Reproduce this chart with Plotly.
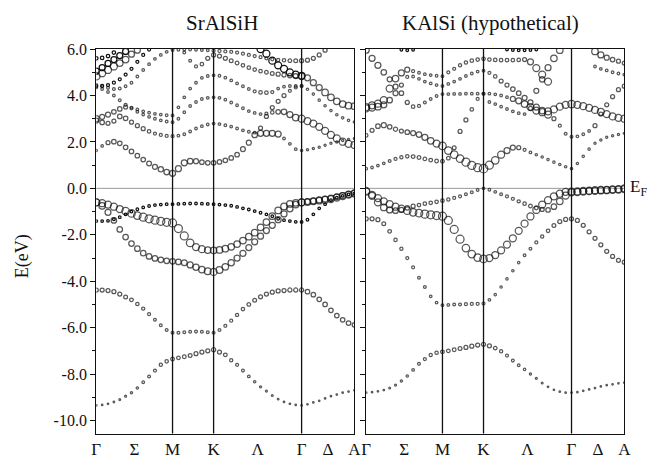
import plotly.graph_objects as go

N = None
# k-path sample positions (Γ=0, M=13, K=20, Γ=35, A=44)
K_POINTS = list(range(45))
SYM_LINES = [13, 20, 35]
X_TICKVALS = [0, 6.5, 13, 20, 27.5, 35, 39.5, 44]
X_TICKTEXT = ["Γ", "Σ", "M", "K", "Λ", "Γ", "Δ", "A"]
Y_TICKVALS = [6, 4, 2, 0, -2, -4, -6, -8, -10]
Y_TICKTEXT = ["6.0", "4.0", "2.0", "0.0", "-2.0", "-4.0", "-6.0", "-8.0", "-10.0"]
Y_MINOR = [5, 3, 1, -1, -3, -5, -7, -9]
TITLES = ["SrAlSiH", "KAlSi (hypothetical)"]

# ---------------- SrAlSiH (left) : energies (eV) and fat-band weights (marker size) ----------
SR_B1_E = [-9.35,-9.33,-9.28,-9.2,-9.1,-8.95,-8.8,-8.6,-8.35,-8.1,-7.85,-7.6,-7.45,-7.35,
           -7.3,-7.25,-7.2,-7.12,-7.05,-7.0,-6.95,
           -7.05,-7.17,-7.4,-7.6,-7.85,-8.1,-8.33,-8.55,-8.73,-8.92,-9.08,-9.2,-9.28,-9.33,-9.35,
           -9.3,-9.22,-9.15,-9.05,-8.95,-8.88,-8.8,-8.75,-8.7]
SR_B1_S = [1.5,1.5,1.5,1.6,1.8,2,2.2,2.4,2.6,2.8,3,3.2,3.4,3.6,
           3.6,3.7,3.8,3.9,4,4,4.2,
           4,3.6,3.2,3,2.8,2.6,2.4,2.2,2,1.8,1.6,1.5,1.5,1.5,1.5,
           1.5,1.5,1.5,1.5,1.5,1.5,1.5,1.5,1.5]
SR_B2_E = [-4.38,-4.38,-4.4,-4.45,-4.55,-4.68,-4.8,-4.98,-5.18,-5.42,-5.66,-5.9,-6.1,-6.22,
           -6.22,-6.2,-6.18,-6.17,-6.18,-6.2,-6.22,
           -6.1,-5.92,-5.7,-5.45,-5.2,-5.0,-4.82,-4.67,-4.55,-4.47,-4.42,-4.4,-4.38,-4.38,-4.38,
           -4.45,-4.58,-4.78,-5.0,-5.25,-5.48,-5.66,-5.8,-5.88]
SR_B2_S = [4,4,4,4,4,3.8,3.6,3.4,3.2,3,2.8,2.8,2.8,2.8,
           2.8,2.8,2.8,2.8,2.8,2.8,2.8,
           2.8,3,3,3.2,3.4,3.6,3.8,4,4,4,4,4,4.2,4.2,4.2,
           4.5,4.5,4.5,4.5,4.5,4.5,4.5,4.5,4.5]
SR_B3_E = [-0.6,-0.75,-1.03,-1.38,-1.77,-2.1,-2.38,-2.6,-2.79,-2.93,-3.02,-3.08,-3.12,-3.14,
           -3.17,-3.2,-3.3,-3.4,-3.5,-3.57,-3.6,
           -3.52,-3.38,-3.2,-3.0,-2.8,-2.55,-2.3,-2.06,-1.82,-1.59,-1.35,-1.1,-0.88,-0.7,-0.6,
           -0.57,-0.54,-0.5,-0.46,-0.42,-0.37,-0.31,-0.26,-0.21]
SR_B3_S = [7,6.5,6,5.5,5.5,5.5,5.5,5.5,5.5,5.5,5.5,5.5,5.5,5.5,
           5.5,5.8,6,6.2,6.5,6.8,7,
           6.8,6.5,6.2,6,6,6,6,6,6,6,6,6,6.2,6.5,7,
           6,6,6,6,6,6,6,6,6]
SR_B4_E = [-0.6,-0.64,-0.7,-0.79,-0.89,-0.98,-1.08,-1.17,-1.24,-1.31,-1.37,-1.42,-1.46,-1.49,
           -1.73,-2.05,-2.35,-2.53,-2.62,-2.66,-2.67,
           -2.65,-2.6,-2.52,-2.4,-2.25,-2.08,-1.91,-1.68,-1.45,-1.2,-0.95,-0.78,-0.67,-0.62,-0.6,
           -0.59,-0.56,-0.53,-0.5,-0.46,-0.4,-0.33,-0.27,-0.22]
SR_B4_S = [7,7,7,7,7,7.5,7.5,7.5,8,8,8,8,8,8,
           8,8,7.5,7,7,6.5,6.5,
           6.5,6.5,6.5,6.5,6.5,6.5,6.5,6.5,6.5,6.5,6.5,6.5,6.5,6.5,7,
           6.5,6.5,6.5,7,7,7,7,7,7]
SR_B5_E = [-1.41,-1.41,-1.4,-1.33,-1.24,-1.12,-1.0,-0.9,-0.82,-0.76,-0.72,-0.7,-0.68,-0.68,
           -0.67,-0.66,-0.65,-0.65,-0.66,-0.67,-0.68,
           -0.7,-0.72,-0.75,-0.8,-0.86,-0.91,-0.98,-1.05,-1.12,-1.2,-1.31,-1.37,-1.41,-1.44,-1.45,
           -1.35,-1.12,-0.86,-0.68,-0.51,-0.4,-0.32,-0.26,-0.22]
SR_B5_S = 2.6
SR_B6_E = [1.63,1.83,1.97,2.01,1.94,1.77,1.59,1.41,1.24,1.07,0.93,0.82,0.7,0.65,
           0.85,1.1,1.17,1.17,1.13,1.1,1.1,
           1.14,1.21,1.31,1.45,1.69,1.97,2.3,2.37,2.37,2.37,2.34,2.15,1.92,1.69,1.63,
           1.66,1.72,1.77,1.86,1.94,2.0,2.06,2.11,2.15]
SR_B6_S = [2.2,2.5,4,4.5,4.5,4.5,4.5,4.5,4.5,4.8,5,5.2,5.5,6,
           6,6,5.5,5,4.5,4.5,4.5,
           4.5,4.5,4.5,4.5,4.8,5,5.5,6,6,6,6,2.6,2.6,2.6,2.4,
           2.2,2.2,2.2,2.2,2.2,2.2,2.2,2.2,2.2]
SR_B7_E = [2.92,2.84,2.8,2.9,3.1,3.02,2.85,2.7,2.57,2.45,2.36,2.3,2.26,2.25,
           2.27,2.33,2.45,2.58,2.68,2.75,2.79,
           2.77,2.72,2.66,2.58,2.5,2.44,2.4,2.6,3.1,3.48,3.75,4.0,4.2,4.35,4.41,
           4.27,4.06,3.8,3.56,3.35,3.17,3.04,2.93,2.86]
SR_B7_S = [5,4.5,4,4,4.5,4.5,4,4,4,3.5,3,3,3,3,
           2.6,2.6,2.6,2.6,2.6,2.6,2.6,
           2.6,2.6,2.6,2.6,2.6,2.6,2.6,4,4,4,4,4,3,3,2.6,
           2.4,2.4,2.4,2.4,2.4,2.4,2.4,2.4,2.4]
SR_B8_E = [3.0,3.08,3.18,3.3,3.42,3.5,3.45,3.3,3.18,3.08,3.0,2.93,2.88,2.85,
           3.0,3.28,3.55,3.72,3.85,3.9,3.92,
           3.9,3.82,3.7,3.58,3.45,3.33,3.25,3.2,3.22,3.27,3.3,3.3,3.18,3.05,3.0,
           2.9,2.79,2.65,2.48,2.3,2.15,2.01,1.92,1.87]
SR_B8_S = [6,5,5,4.5,4.5,4,3,2.6,2.6,2.6,2.6,2.6,2.6,2.6,
           2.6,2.6,2.6,2.6,2.6,2.6,2.6,
           2.6,2.6,2.6,2.6,2.6,2.6,2.6,2.6,3,3.5,4.5,5.5,6,6.5,7,
           7,7,7,7,7,7,7,7,7]
SR_B9_E = [4.35,4.28,4.15,4.0,3.8,3.6,3.48,3.4,3.32,3.26,3.21,3.18,3.15,3.14,
           3.49,3.92,4.3,4.55,4.76,4.84,4.87,
           4.85,4.77,4.65,4.52,4.4,4.28,4.18,4.13,4.12,4.15,4.3,4.38,4.41,4.41,4.41,
           4.76,4.55,4.34,4.13,3.92,3.75,3.63,3.56,3.54]
SR_B9_S = [2.6,2.6,2.6,2.6,2.8,3,2.6,2.6,2.6,2.6,2.6,2.6,2.6,2.6,
           2.6,2.6,2.6,2.6,2.6,2.6,2.6,
           2.6,2.6,2.6,2.6,2.6,2.6,3,3.5,3.5,3,2.6,2.6,2.6,2.6,2.6,
           6,6,6,6.5,6.5,6.5,6.5,6.5,6.5]
SR_B10_E = [4.83,4.96,5.1,5.25,5.4,5.55,5.78,5.95,N,N,N,N,N,N,
            N,5.85,5.5,5.25,5.35,5.6,5.75,
            5.7,5.6,5.5,5.4,5.3,5.2,5.12,5.05,5.0,4.95,4.92,4.88,4.86,4.84,4.83,
            N,N,N,N,N,N,N,N,N]
SR_B10_S = [7.5,7,7,7,6.5,6.5,6,6,3,3,3,3,3,3,
            3,2.8,2.8,3,3.5,4,4,
            4,4,3.8,3.6,3.5,3.5,3.5,3.5,3.6,3.8,4,4.2,4.5,5,6,
            3,3,3,3,3,3,3,3,3]
SR_B11_E = [4.45,4.4,4.33,4.28,4.3,4.4,4.55,4.82,5.1,5.35,5.58,5.75,5.88,5.96,
            5.97,5.98,5.98,5.97,5.96,5.95,5.93,
            5.92,5.9,5.88,5.85,5.8,5.75,5.7,5.65,5.6,5.56,5.53,5.52,5.5,5.5,5.5,
            5.52,5.6,5.75,5.95,N,N,N,N,N]
SR_B11_S = [2.8,2.8,2.8,2.8,2.8,2.6,2.6,2.6,2.6,2.6,2.6,2.6,2.6,2.6,
            2.6,2.6,2.6,2.6,2.6,2.6,3,
            3,3,3,3,3,3,3,3,3,3,3.2,3.4,3.6,3.8,4,
            4,4,4,4,4,4,4,4,4]
SR_B12_E = [N,N,N,N,N,N,N,N,N,N,N,N,N,N,
            N,N,N,N,N,N,N,
            N,N,N,N,N,N,N,6.0,5.8,5.5,5.3,5.15,5.0,4.9,4.85,
            N,N,N,N,N,N,N,N,N]
SR_B12_S = 7
SR_B13_E = [5.05,5.2,5.38,5.55,5.72,5.9,N,N,N,N,N,N,N,N,
            N,N,N,N,N,N,N,
            N,N,N,N,N,N,N,N,N,N,N,N,N,N,N,
            N,N,N,N,N,N,N,N,N]
SR_B13_S = 6
SR_B14_E = [5.6,5.62,5.7,5.85,N,N,N,N,N,N,N,N,N,N,
            N,N,N,N,N,N,N,
            N,N,N,N,N,N,N,N,N,N,N,N,N,N,N,
            N,N,N,N,N,N,N,N,N]
SR_B14_S = 3.5
SR_B15_E = [4.4,4.42,4.45,4.55,4.7,4.9,5.15,5.45,5.75,5.98,N,N,N,N,
            N,N,N,N,N,N,N,
            N,N,N,N,N,N,N,N,N,N,N,N,N,N,N,
            N,N,N,N,N,N,N,N,N]
SR_B15_S = 3

# ---------------- KAlSi (right) -------------------------------------------------------------
KA_B1_E = [-8.8,-8.78,-8.74,-8.69,-8.6,-8.47,-8.3,-8.08,-7.82,-7.56,-7.35,-7.18,-7.08,-7.04,
           -7.0,-6.95,-6.9,-6.85,-6.8,-6.75,-6.72,
           -6.78,-6.88,-7.02,-7.2,-7.42,-7.62,-7.8,-8.0,-8.18,-8.38,-8.55,-8.68,-8.76,-8.8,-8.8,
           -8.78,-8.72,-8.66,-8.6,-8.53,-8.48,-8.44,-8.4,-8.37]
KA_B1_S = [1.5,1.5,1.5,1.6,1.8,2,2.2,2.4,2.6,2.8,3,3.2,3.4,3.6,
           3.6,3.7,3.8,3.9,4,4,4.2,
           4,3.6,3.2,3,2.8,2.6,2.4,2.2,2,1.8,1.6,1.5,1.5,1.5,1.5,
           1.5,1.5,1.5,1.5,1.5,1.5,1.5,1.5,1.5]
KA_B2_E = [-1.31,-1.31,-1.35,-1.52,-1.85,-2.22,-2.6,-3.0,-3.4,-3.85,-4.25,-4.65,-4.92,-5.03,
           -5.02,-5.0,-5.0,-4.99,-4.98,-4.97,-4.96,
           -4.8,-4.58,-4.25,-3.9,-3.55,-3.2,-2.88,-2.6,-2.33,-2.07,-1.83,-1.6,-1.43,-1.34,-1.31,
           -1.38,-1.59,-1.87,-2.15,-2.43,-2.71,-2.93,-3.1,-3.18]
KA_B2_S = [4,4,4,3.8,3.6,3.4,3.2,3,3,2.8,2.8,2.6,2.6,2.6,
           2.6,2.8,2.8,3,3,3,3,
           2.6,2.4,2.4,2.4,2.4,2.4,2.6,2.8,3,3.2,3.5,3.8,4,4,4,
           4,4,4,4,4,4,4,4,4]
KA_B3_E = [-0.14,-0.28,-0.42,-0.56,-0.68,-0.79,-0.87,-0.96,-1.03,-1.07,-1.11,-1.14,-1.17,-1.2,
           -1.38,-1.77,-2.19,-2.57,-2.83,-2.98,-3.04,
           -3.0,-2.87,-2.67,-2.42,-2.15,-1.83,-1.52,-1.21,-0.93,-0.7,-0.51,-0.34,-0.23,-0.15,-0.14,
           -0.13,-0.11,-0.1,-0.08,-0.07,-0.06,-0.04,-0.03,0.0]
KA_B3_S = [7,7,7,7,7,7,7,7.5,7.5,7.5,8,8,8,8,
           8,8,8,7.5,7.5,7.5,7.5,
           7,7,7,7,7,7,7,7,7,7,7,7,7,7,7,
           7,7,7,7,7,7,7,7,7]
KA_B4_E = [-0.11,-0.32,-0.6,-0.82,-0.93,-0.96,-0.93,-0.84,-0.77,-0.72,-0.66,-0.62,-0.58,-0.53,
           -0.48,-0.41,-0.34,-0.25,-0.17,-0.07,0.0,
           -0.06,-0.15,-0.25,-0.35,-0.45,-0.56,-0.66,-0.76,-0.84,-0.91,-0.93,-0.79,-0.56,-0.31,-0.17,
           -0.16,-0.14,-0.12,-0.11,-0.09,-0.08,-0.06,-0.05,-0.03]
KA_B4_S = [7,7,7,6.5,6,5.5,5,4.5,4,3.5,3.5,3.5,3.5,3.5,
           3.2,3,3,2.8,2.8,2.6,2.6,
           2.6,2.6,2.8,3,3,3.2,3.4,3.6,3.8,4,4.5,5.5,6.5,7,7,
           7,7,7,7,7,7,7,7,7]
KA_B5_E = [0.85,0.9,0.98,1.08,1.18,1.27,1.34,1.38,1.37,1.33,1.27,1.22,1.18,1.17,
           1.3,1.75,2.45,2.95,3.4,3.85,4.08,
           3.72,3.63,3.52,3.42,3.32,3.24,3.2,3.45,4.2,4.7,5.2,5.6,5.95,N,N,
           1.07,1.38,1.69,1.94,2.08,2.2,2.27,2.32,2.37]
KA_B5_S = [2.6,2.6,2.6,2.6,2.8,3,3.2,3.4,3.6,3.6,3.6,3.6,3.6,3.6,
           3.6,3.8,4,4,3.5,3,2.8,
           2.6,2.6,2.6,2.6,2.6,2.6,2.6,4,5,5.5,6,6.5,6.5,6,6,
           2.4,2.4,2.4,2.2,2.2,2.2,2.2,2.2,2.2]
KA_B6_E = [2.28,2.5,2.68,2.72,2.65,2.55,2.47,2.42,2.38,2.32,2.2,2.05,1.93,1.83,
           1.63,1.45,1.28,1.13,0.99,0.89,0.85,
           1.0,1.21,1.45,1.63,1.76,1.75,1.66,1.55,1.45,1.35,1.24,1.13,1.03,0.93,0.85,
           2.24,2.33,2.47,2.7,3.2,3.6,3.95,4.25,4.4]
KA_B6_S = [3.5,4,4.5,5,4.5,4.2,4,4.5,5,5.5,6,6.5,7,7.5,
           7.5,7.5,7.5,8,8,8,8.5,
           8,7.5,7,6,5,4,3,2.6,2.4,2.4,2.4,2.4,2.4,2.4,2.4,
           2.6,2.6,2.6,4,4,4,4,4,4]
KA_B7_E = [5.95,5.6,5.3,5.0,4.7,4.38,4.1,3.7,3.52,3.55,3.7,3.85,3.98,4.06,
           4.06,4.07,4.07,4.08,4.08,4.08,4.08,
           4.08,4.05,4.0,3.93,3.85,3.77,3.63,3.5,3.35,3.28,3.18,3.0,2.7,2.35,2.22,
           3.6,3.54,3.47,3.38,3.3,3.2,3.1,3.04,3.0]
KA_B7_S = [6,6,6,5.5,5,5,4.5,4,3.5,3,2.8,2.6,2.6,2.6,
           2.6,2.6,2.6,2.6,2.6,2.6,2.6,
           2.6,2.6,2.6,2.6,5,6,6.5,7,7,7,7,4,3,2.8,2.8,
           7,7,7,7,7,7,7,7,7]
KA_B8_E = [3.5,3.58,3.65,3.8,4.3,4.73,4.97,5.11,5.05,4.98,4.92,4.88,4.85,4.83,
           5.0,5.15,5.3,5.42,5.5,5.55,5.58,
           5.55,5.53,5.52,5.52,5.52,5.53,5.55,5.45,5.18,4.9,4.6,N,N,N,N,
           N,N,N,5.9,5.75,5.63,5.55,5.48,5.4]
KA_B8_S = [7,7,7,7,7,6.5,6,5,3,2.6,2.6,2.6,2.6,2.6,
           3,3,3.2,3.4,3.5,3.5,3.5,
           3.5,3.5,3.5,3.5,3.5,3.5,4,6,7,7,7,7,7,7,7,
           6,6,6,6.5,6,5,4.5,4,4]
KA_B9_E = [3.45,3.48,3.52,3.6,3.8,4.1,4.45,4.8,4.82,4.72,4.6,4.52,4.45,4.41,
           4.5,4.6,4.72,4.84,4.95,5.03,5.07,
           4.98,4.82,4.62,4.45,4.28,4.1,3.9,3.7,3.5,3.35,3.32,3.4,3.52,3.6,3.63,
           N,N,N,5.25,5.15,5.08,5.0,4.95,4.9]
KA_B9_S = [7,7,6.5,6,5.5,5,4,3,2.6,2.6,2.6,2.6,2.6,2.6,
           2.6,2.6,2.6,2.6,2.6,2.6,2.6,
           3,3.5,4,4,4.5,4.5,5,5,6,6.5,7,7,7,7,7.5,
           2.6,2.6,2.6,2.6,2.6,2.6,2.6,2.6,2.6]
KA_B10_E = [N,N,N,N,N,N,5.97,5.95,5.97,N,N,N,N,N,
            N,N,N,N,N,N,N,
            N,N,N,5.98,5.96,5.95,5.95,5.96,5.98,N,N,N,N,N,N,
            N,N,N,N,N,N,N,N,N]
KA_B10_S = 2.6

SR_BANDS = [(SR_B1_E, SR_B1_S), (SR_B2_E, SR_B2_S), (SR_B3_E, SR_B3_S), (SR_B4_E, SR_B4_S),
            (SR_B5_E, SR_B5_S), (SR_B6_E, SR_B6_S), (SR_B7_E, SR_B7_S), (SR_B8_E, SR_B8_S),
            (SR_B9_E, SR_B9_S), (SR_B10_E, SR_B10_S), (SR_B11_E, SR_B11_S), (SR_B12_E, SR_B12_S),
            (SR_B13_E, SR_B13_S), (SR_B14_E, SR_B14_S), (SR_B15_E, SR_B15_S)]
KA_BANDS = [(KA_B1_E, KA_B1_S), (KA_B2_E, KA_B2_S), (KA_B3_E, KA_B3_S), (KA_B4_E, KA_B4_S),
            (KA_B5_E, KA_B5_S), (KA_B6_E, KA_B6_S), (KA_B7_E, KA_B7_S), (KA_B8_E, KA_B8_S),
            (KA_B9_E, KA_B9_S), (KA_B10_E, KA_B10_S)]

INK = "#111111"
SERIF = "Liberation Serif, Times New Roman, serif"
W, H = 648, 459

fig = go.Figure()
for bands, xa, ya in [(SR_BANDS, "x", "y"), (KA_BANDS, "x2", "y2")]:
    for e, s in bands:
        assert len(e) == len(K_POINTS), len(e)
        if isinstance(s, list):
            assert len(s) == len(K_POINTS), len(s)
        fig.add_trace(go.Scatter(
            x=K_POINTS, y=e, mode="markers", xaxis=xa, yaxis=ya, hoverinfo="skip",
            marker=dict(symbol="circle-open", size=s, color=INK,
                        line=dict(width=1.25, color=INK))))

# panel geometry in pixels
L_X0, L_X1 = 93, 356
R_X0, R_X1 = 368, 631
Y_TOP, Y_BOT = 42, 435
yd = [1 - Y_BOT / H, 1 - Y_TOP / H]

common_x = dict(range=[0, 44], tickvals=X_TICKVALS, ticktext=X_TICKTEXT, ticks="",
                showline=True, mirror=True, linecolor=INK, linewidth=1.3,
                showgrid=False, zeroline=False,
                tickfont=dict(family=SERIF, size=17, color="#111"))
common_y = dict(range=[-10.56, 6.0], tickvals=Y_TICKVALS, ticktext=Y_TICKTEXT,
                ticks="outside", ticklen=5, tickwidth=1, tickcolor=INK,
                minor=dict(tickvals=Y_MINOR, ticks="outside", ticklen=3, tickcolor=INK, tickwidth=1),
                showline=True, mirror=True, linecolor=INK, linewidth=1.3,
                showgrid=False, zeroline=False,
                tickfont=dict(family=SERIF, size=16, color="#111"))

fig.update_layout(
    width=W, height=H, margin=dict(l=0, r=0, t=0, b=0),
    paper_bgcolor="white", plot_bgcolor="white", showlegend=False,
    font=dict(family=SERIF, color="#111"),
    xaxis=dict(domain=[L_X0 / W, L_X1 / W], anchor="y", **common_x),
    yaxis=dict(domain=yd, anchor="x", **common_y),
    xaxis2=dict(domain=[R_X0 / W, R_X1 / W], anchor="y2", **common_x),
    yaxis2=dict(domain=yd, anchor="x2", showticklabels=False, **common_y),
)

shapes = []
for xa, ya in [("x", "y"), ("x2", "y2")]:
    shapes.append(dict(type="line", xref=xa + " domain", yref=ya, x0=0, x1=1, y0=0, y1=0,
                       line=dict(color="#9a9a9a", width=1), layer="below"))
    for xv in SYM_LINES:
        shapes.append(dict(type="line", xref=xa, yref=ya + " domain", x0=xv, x1=xv, y0=0, y1=1,
                           line=dict(color=INK, width=1.3)))
fig.update_layout(shapes=shapes)

annotations = [
    dict(text=TITLES[0], x=221 / W, y=1 - 15 / H, xref="paper", yref="paper",
         xanchor="center", yanchor="middle", showarrow=False,
         font=dict(family=SERIF, size=21, color="#111")),
    dict(text=TITLES[1], x=495 / W, y=1 - 15 / H, xref="paper", yref="paper",
         xanchor="center", yanchor="middle", showarrow=False,
         font=dict(family=SERIF, size=21, color="#111")),
    dict(text="E(eV)", x=18 / W, y=1 - 254 / H, xref="paper", yref="paper",
         xanchor="center", yanchor="middle", textangle=-90, showarrow=False,
         font=dict(family=SERIF, size=18, color="#111")),
    dict(text="E<sub>F</sub>", x=635 / W, y=0, xref="paper", yref="y2",
         xanchor="left", yanchor="middle", showarrow=False,
         font=dict(family=SERIF, size=17, color="#111")),
]
fig.update_layout(annotations=annotations)

fig.write_html("out.html")
